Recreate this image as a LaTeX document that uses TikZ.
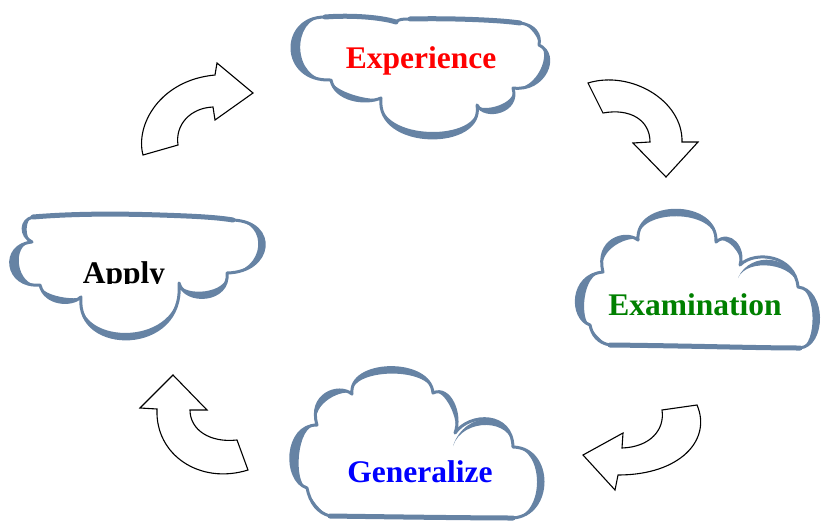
\documentclass[tikz,border=0pt]{standalone}
\usepackage{fontspec}
\setmainfont{Liberation Serif}
\usetikzlibrary{calc}
\definecolor{cloudblue}{RGB}{102,131,164}
\definecolor{labgreen}{RGB}{0,128,0}
% crescent-shaped lobe: #1 inset, #2 start, #3 ctrl1, #4 ctrl2, #5 end
\newcommand\cloudlobe[5][8pt]{\fill[cloudblue] #2 .. controls #3 and #4 .. #5
  .. controls ($#4!#1!#5$) and ($#3!#1!#2$) .. #2 -- cycle;}
\begin{document}
\begin{tikzpicture}[x=1pt,y=-1pt,
  cloudbody/.style={fill=white},
  cloudline/.style={draw=cloudblue, line width=3pt, line join=round},
  cloudflat/.style={draw=cloudblue, line width=5pt, line cap=round},
  bentarrow/.style={draw=black, line width=1.1pt, fill=white, line join=miter},
  cloudlabel/.style={font=\fontsize{31.5}{36}\selectfont\bfseries, anchor=base, inner sep=0pt}]
\useasboundingbox (0,0) rectangle (821,522);

% ---------- Experience cloud ----------
\path[cloudbody, cloudline] (331,80) .. controls (280,82) and (280,17) .. (325,17)
 .. controls (350,15) and (380,17) .. (396,22)
 .. controls (399,19) and (403,19) .. (410,19)
 .. controls (450,18) and (500,20) .. (520,23)
 .. controls (535,25) and (541,35) .. (539,45)
 .. controls (560,55) and (545,92) .. (513,88)
 .. controls (520,112) and (485,120) .. (477,105)
 .. controls (485,150) and (375,150) .. (381,98)
 .. controls (365,105) and (335,100) .. (331,80) -- cycle;
\draw[cloudflat] (325,17) .. controls (350,15) and (380,17) .. (396,22);
\draw[cloudflat] (410,19) .. controls (450,18) and (500,20) .. (520,23);
\cloudlobe[11pt]{(331,80)}{(280,82)}{(280,17)}{(325,17)}
\cloudlobe[5pt]{(520,23)}{(535,25)}{(541,35)}{(539,45)}
\cloudlobe{(539,45)}{(560,55)}{(545,92)}{(513,88)}
\cloudlobe{(513,88)}{(520,112)}{(485,120)}{(477,105)}
\cloudlobe{(477,105)}{(485,150)}{(375,150)}{(381,98)}
\cloudlobe{(381,98)}{(365,105)}{(335,100)}{(331,80)}
\node[cloudlabel, text=red] (experience) at (421,68) {Experience};

% ---------- Apply cloud ----------
\path[cloudbody, cloudline] (33,217) .. controls (80,213) and (130,214) .. (160,215)
 .. controls (190,216) and (215,217) .. (233,220)
 .. controls (278,222) and (273,272) .. (227,273)
 .. controls (230,302) and (185,305) .. (179,283)
 .. controls (185,355) and (75,355) .. (81,297)
 .. controls (72,306) and (45,305) .. (40,285)
 .. controls (5,288) and (0,245) .. (32,242)
 .. controls (20,236) and (20,220) .. (33,217) -- cycle;
\draw[cloudflat] (33,217) .. controls (80,213) and (130,214) .. (160,215)
 .. controls (190,216) and (215,217) .. (233,220);
\cloudlobe{(233,220)}{(278,222)}{(273,272)}{(227,273)}
\cloudlobe{(227,273)}{(230,302)}{(185,305)}{(179,283)}
\cloudlobe{(179,283)}{(185,355)}{(75,355)}{(81,297)}
\cloudlobe{(81,297)}{(72,306)}{(45,305)}{(40,285)}
\cloudlobe[11pt]{(40,285)}{(5,288)}{(0,245)}{(32,242)}
\cloudlobe[5pt]{(32,242)}{(20,236)}{(20,220)}{(33,217)}
\begin{scope}
\clip (0,0) rectangle (821,283);
\node[cloudlabel, text=black] (apply) at (124,283) {Apply};
\end{scope}

% ---------- Examination cloud ----------
\path[cloudbody, cloudline] (603,272) .. controls (595,240) and (625,230) .. (638,240)
 .. controls (635,200) and (718,200) .. (716,242)
 .. controls (730,230) and (745,248) .. (740,265)
 .. controls (755,250) and (795,255) .. (798,287)
 .. controls (825,290) and (825,345) .. (800,348)
 .. controls (760,348) and (700,346) .. (610,345)
 .. controls (598,343) and (592,335) .. (590,325)
 .. controls (570,318) and (570,275) .. (603,272) -- cycle;
\draw[cloudflat] (800,348) .. controls (760,348) and (700,346) .. (610,345);
\cloudlobe{(603,272)}{(595,240)}{(625,230)}{(638,240)}
\cloudlobe{(638,240)}{(635,200)}{(718,200)}{(716,242)}
\cloudlobe[6pt]{(716,242)}{(730,230)}{(745,248)}{(740,265)}
\cloudlobe{(738,278)}{(750,250)}{(795,255)}{(798,287)}
\cloudlobe{(798,287)}{(825,290)}{(825,345)}{(800,348)}
\cloudlobe[5pt]{(610,345)}{(598,343)}{(592,335)}{(590,325)}
\cloudlobe[11pt]{(590,325)}{(570,318)}{(570,275)}{(603,272)}
\node[cloudlabel, text=labgreen] (examination) at (695,315) {Examination};

% ---------- Generalize cloud ----------
\path[cloudbody, cloudline] (317,425) .. controls (308,395) and (338,383) .. (352,394)
 .. controls (348,360) and (430,358) .. (433,393)
 .. controls (450,385) and (462,415) .. (455,433)
 .. controls (470,412) and (512,412) .. (513,447)
 .. controls (553,448) and (553,515) .. (513,518)
 .. controls (480,518) and (400,517) .. (330,516)
 .. controls (318,513) and (310,503) .. (307,488)
 .. controls (283,480) and (285,425) .. (317,425) -- cycle;
\draw[cloudflat] (513,518) .. controls (480,518) and (400,517) .. (330,516);
\cloudlobe{(317,425)}{(308,395)}{(338,383)}{(352,394)}
\cloudlobe{(352,394)}{(348,360)}{(430,358)}{(433,393)}
\cloudlobe[6pt]{(433,393)}{(450,385)}{(462,415)}{(455,433)}
\cloudlobe{(453,446)}{(465,410)}{(512,410)}{(513,447)}
\cloudlobe{(513,447)}{(553,448)}{(553,515)}{(513,518)}
\cloudlobe[5pt]{(330,516)}{(318,513)}{(310,503)}{(307,488)}
\cloudlobe[11pt]{(307,488)}{(283,480)}{(285,425)}{(317,425)}
\node[cloudlabel, text=blue] (generalize) at (420,482) {Generalize};

% ---------- curved block arrows ----------
% top-left, pointing right
\path[bentarrow] (143,155) .. controls (135,125) and (160,80) .. (215,75)
 -- (217,63) -- (253,93) -- (215,120) -- (213,107)
 .. controls (190,108) and (175,125) .. (178,145) -- cycle;
% top-right, pointing down
\path[bentarrow] (588,83) .. controls (630,70) and (683,100) .. (682,142)
 -- (698,142) -- (666,177) -- (633,143) -- (650,142)
 .. controls (650,120) and (630,108) .. (603,113) -- cycle;
% bottom-right, pointing left
\path[bentarrow] (697,405) .. controls (712,440) and (680,475) .. (618,475)
 -- (615,490) -- (583,455) -- (623,433) -- (622,448)
 .. controls (650,447) and (665,430) .. (662,410) -- cycle;
% bottom-left, pointing up
\path[bentarrow] (248,470) .. controls (200,485) and (155,455) .. (157,409)
 -- (140,408) -- (173,375) -- (207,410) -- (190,410)
 .. controls (190,430) and (210,443) .. (237,440) -- cycle;
\end{tikzpicture}
\end{document}
